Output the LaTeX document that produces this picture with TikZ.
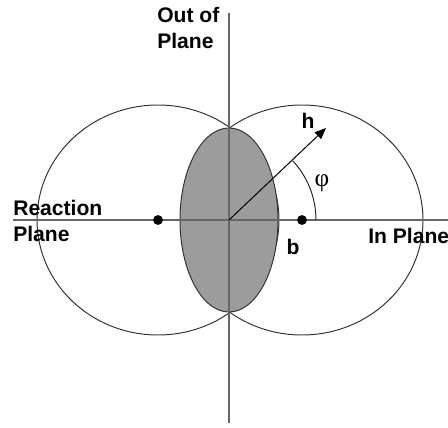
\documentclass[tikz,border=0pt]{standalone}
\usepackage{fontspec}
\setsansfont{Liberation Sans}
\newfontfamily\greekfont{Liberation Serif}
\usetikzlibrary{arrows.meta}

\begin{document}
\begin{tikzpicture}[x=0.025cm,y=0.025cm,every node/.style={font=\sffamily\bfseries\fontsize{15}{18}\selectfont,inner sep=0pt},
axis/.style={gray!80!black,line width=0.8pt},nucleus/.style={gray!40!black,line width=0.7pt},dot/.style={circle,fill=black,minimum size=7pt,inner sep=0pt}]
\useasboundingbox (-229,-208) rectangle (219,220);
\coordinate (O) at (0,0);\coordinate (htip) at (97,92);
\draw[nucleus] (-71,0) ellipse[x radius=121,y radius=115];
\draw[nucleus] (73,0) ellipse[x radius=121,y radius=115];
\fill[fill=gray!78,draw=gray!40!black,line width=0.7pt] (O) ellipse[x radius=49,y radius=92];
\draw[axis] (0,-203)--(0,207);\draw[axis] (-216,0)--(219,0);
\node[dot] (cL) at (-71,0) {};\node[dot] (cR) at (73,0) {};
\draw[-{Triangle[length=8pt,width=6.5pt]},line width=0.7pt] (O)--(htip);
\draw[gray!30!black,line width=0.7pt] (87,0) arc[start angle=0,end angle=43,radius=87];
\node (h) at (79,99) {h};\node (b) at (64,-27) {b};
\node[font=\greekfont\fontsize{18}{18}\selectfont] (phi) at (93,37) {φ};
\node[align=left,anchor=west] (oop) at (-72,192) {Out of\\Plane};
\node[align=left,anchor=west] (rp) at (-216,-1) {Reaction\\[1pt]Plane};
\node[anchor=west] (ip) at (139,-16) {In Plane};
\end{tikzpicture}
\end{document}
